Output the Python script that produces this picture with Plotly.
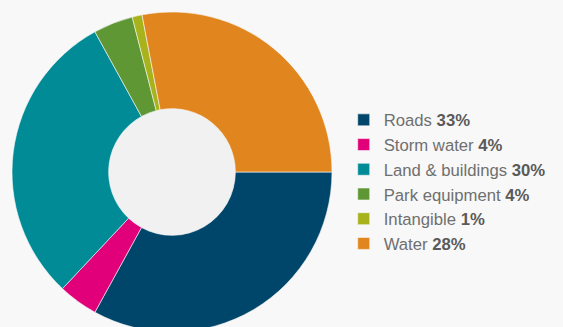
import plotly.graph_objects as go

# Asset categories and their share of the total (%)
categories = ["Roads", "Storm water", "Land & buildings", "Park equipment", "Intangible", "Water"]
shares = [33, 4, 30, 4, 1, 28]
colors = ["#00466a", "#e2007a", "#008b96", "#5e9733", "#a8b21b", "#e1861e"]

legend_names = [
    f'<span style="color:#6f6f6f">{c}</span> <b><span style="color:#5a5a5a">{v}%</span></b>'
    for c, v in zip(categories, shares)
]

W, H = 563, 332
R = 160          # outer radius in px
CX, CY = 172, 172

fig = go.Figure(
    go.Pie(
        labels=legend_names,
        values=shares,
        marker=dict(colors=colors, line=dict(color="#f8f8f8", width=0.6)),
        hole=0.396,
        sort=False,
        direction="clockwise",
        rotation=90,
        textinfo="none",
        hoverinfo="skip",
        domain=dict(x=[0, (2 * R) / (W - (CX - R))], y=[0, 1]),
    )
)

# lighter disc filling the donut hole
hr = R * 0.396
fig.add_shape(
    type="circle", xref="paper", yref="paper", layer="below",
    x0=(CX - (CX - R) - hr) / (W - (CX - R)), x1=(CX - (CX - R) + hr) / (W - (CX - R)),
    y0=(H - CY - hr) / (H - (CY - R)), y1=(H - CY + hr) / (H - (CY - R)),
    fillcolor="#f1f1f1", line=dict(width=0),
)

fig.update_layout(
    width=W,
    height=H,
    margin=dict(l=CX - R, r=0, t=CY - R, b=0, autoexpand=False),
    paper_bgcolor="#f8f8f8",
    plot_bgcolor="#f8f8f8",
    showlegend=True,
    legend=dict(
        xref="container", yref="container",
        x=0.6105, y=1 - 182 / H,
        xanchor="left", yanchor="middle",
        font=dict(family="Liberation Sans, Arial, sans-serif", size=16.7, color="#6f6f6f"),
        bgcolor="rgba(0,0,0,0)",
        traceorder="normal",
    ),
)

fig.write_html(
    "out.html",
    post_script="document.documentElement.style.overflow='hidden';document.body.style.overflow='hidden';document.body.style.margin='0';",
)
